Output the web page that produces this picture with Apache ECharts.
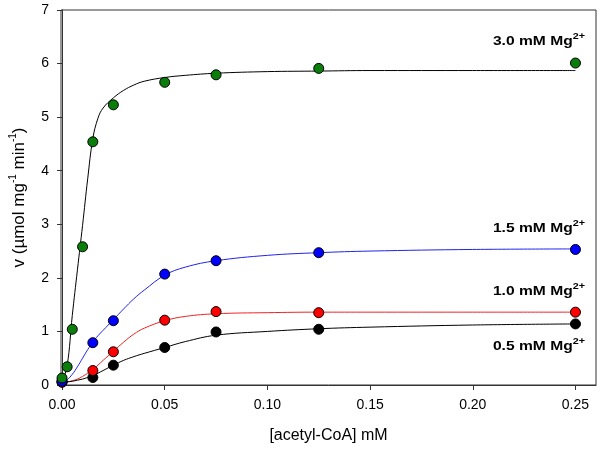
<!DOCTYPE html>
<html>
<head>
<meta charset="utf-8">
<script src="https://cdn.jsdelivr.net/npm/echarts@6/dist/echarts.min.js"></script>
<style>html,body{margin:0;padding:0;background:#fff}#c{width:600px;height:453px}</style>
</head>
<body>
<div id="c"></div>
<script>
// ---- data ----
const xTicks = [0, 0.05, 0.10, 0.15, 0.20, 0.25];
const greenX = [0, 0.0025, 0.005, 0.01, 0.015, 0.025, 0.05, 0.075, 0.125, 0.25];
const green3mM = [0.13, 0.34, 1.04, 2.58, 4.54, 5.23, 5.65, 5.79, 5.91, 6.01];
const otherX = [0, 0.015, 0.025, 0.05, 0.075, 0.125, 0.25];
const blue15mM = [0.07, 0.79, 1.20, 2.07, 2.32, 2.47, 2.53];
const red10mM = [0.05, 0.27, 0.62, 1.21, 1.37, 1.35, 1.36];
const black05mM = [0.06, 0.14, 0.37, 0.70, 0.99, 1.04, 1.14];
// fitted curves
const curveX = [0, 0.0025, 0.005, 0.0075, 0.01, 0.0125, 0.015, 0.0175, 0.02, 0.025, 0.03, 0.035, 0.04, 0.05, 0.06, 0.075, 0.1, 0.125, 0.15, 0.2, 0.25];
const fit3mM = [0.05, 0.36, 1.3, 2.15, 2.98, 3.85, 4.6, 4.98, 5.17, 5.36, 5.5, 5.6, 5.67, 5.74, 5.78, 5.82, 5.85, 5.86, 5.87, 5.87, 5.87];
const fit15mM = [0.06, 0.1, 0.2, 0.34, 0.5, 0.66, 0.8, 0.92, 1.02, 1.22, 1.42, 1.61, 1.77, 2.05, 2.2, 2.32, 2.42, 2.47, 2.5, 2.53, 2.54];
const fit10mM = [0.06, 0.06, 0.08, 0.11, 0.16, 0.22, 0.29, 0.37, 0.46, 0.63, 0.8, 0.95, 1.06, 1.2, 1.28, 1.33, 1.35, 1.36, 1.36, 1.36, 1.36];
const fit05mM = [0.06, 0.06, 0.07, 0.09, 0.11, 0.14, 0.16, 0.22, 0.27, 0.37, 0.46, 0.53, 0.59, 0.70, 0.81, 0.93, 1.0, 1.05, 1.08, 1.12, 1.14];
const seriesLabels = ['3.0 mM Mg', '1.5 mM Mg', '1.0 mM Mg', '0.5 mM Mg'];
const ionCharge = '2+';

const pairs = (xs, ys) => xs.map((x, i) => [x, ys[i]]);
const FONT = '"Liberation Sans", Arial, sans-serif';

function curve(ys, color) {
  return { type: 'line', data: pairs(curveX, ys), showSymbol: false, smooth: 0.4,
    lineStyle: { color: color, width: 1 }, z: 2, silent: true };
}
function pts(xs, ys, color) {
  return { type: 'scatter', data: pairs(xs, ys), symbolSize: 10,
    itemStyle: { color: color, borderColor: '#000', borderWidth: 1, opacity: 1 }, z: 5 };
}

const chart = echarts.init(document.getElementById('c'), null, { renderer: 'canvas' });
const labelPos = [48, 235, 298, 353];
function labelText(i, y) {
  return { type: 'text', x: 585, y: y, scaleX: 1.2, originX: 0, z: 10,
    style: { text: '{a|' + seriesLabels[i] + '}{s|' + ionCharge + '}', align: 'right', verticalAlign: 'bottom',
      rich: { a: { fontFamily: FONT, fontSize: 13, fontWeight: 'bold', fill: '#000', color: '#000', verticalAlign: 'bottom', lineHeight: 16 },
              s: { fontFamily: FONT, fontSize: 9, fontWeight: 'bold', fill: '#000', color: '#000', verticalAlign: 'top', lineHeight: 16 } } } };
}
chart.setOption({
  animation: false,
  backgroundColor: '#fff',
  grid: { left: 59, right: 4, top: 10, bottom: 68, show: true, borderColor: '#333', borderWidth: 1 },
  xAxis: {
    type: 'value', min: -0.0005, max: 0.26,
    axisLine: { show: true, lineStyle: { color: '#333', width: 1 } },
    axisTick: { show: true, inside: false, length: 5, customValues: xTicks, lineStyle: { color: '#333' } },
    axisLabel: { customValues: xTicks, formatter: v => v.toFixed(2), fontFamily: FONT, fontSize: 14, color: '#000', margin: 13 },
    splitLine: { show: false },
    name: '[acetyl-CoA] mM', nameLocation: 'middle', nameGap: 43,
    nameTextStyle: { fontFamily: FONT, fontSize: 16, color: '#000' }
  },
  yAxis: {
    type: 'value', min: 0, max: 7, interval: 1,
    axisLine: { show: true, lineStyle: { color: '#333', width: 1 } },
    axisTick: { show: true, inside: false, length: 5, lineStyle: { color: '#333' } },
    axisLabel: { fontFamily: FONT, fontSize: 14, color: '#000', margin: 12 },
    splitLine: { show: false },
    name: '{a|v (µmol mg}{s|-1}{a| min}{s|-1}{a|)}', nameLocation: 'middle', nameGap: 33,
    nameTextStyle: { fontFamily: FONT, fontSize: 17, color: '#000',
      rich: { a: { fontFamily: FONT, fontSize: 17, color: '#000', verticalAlign: 'bottom', lineHeight: 20 },
              s: { fontFamily: FONT, fontSize: 10, color: '#000', verticalAlign: 'top', lineHeight: 20 } } }
  },
  series: [
    curve(fit3mM, '#000'),
    curve(fit15mM, '#2222ee'),
    curve(fit10mM, '#ee2222'),
    curve(fit05mM, '#000'),
    pts(otherX, black05mM, '#000'),
    pts(otherX, red10mM, '#ff0000'),
    pts(otherX, blue15mM, '#0000ff'),
    pts(greenX, green3mM, '#0a7d0a')
  ],
  graphic: labelPos.map((y, i) => labelText(i, y))
});
</script>
</body>
</html>
